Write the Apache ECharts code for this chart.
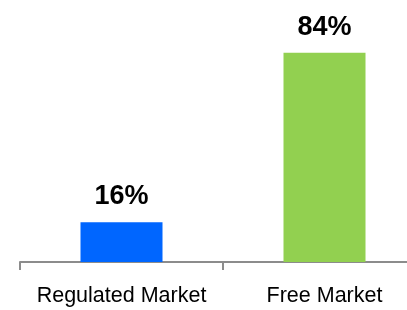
<!DOCTYPE html>
<html>
<head>
<meta charset="utf-8">
<script src="https://cdn.jsdelivr.net/npm/echarts@6/dist/echarts.min.js"></script>
<style>
  html, body { margin: 0; padding: 0; background: #fff; }
  #chart { width: 407px; height: 310px; }
</style>
</head>
<body>
<div id="chart"></div>
<script>
// market share by type, %
const categories = ['Regulated Market', 'Free Market'];
const shares = [16, 84];
const barColors = ['#0066FF', '#92D050'];

const chart = echarts.init(document.getElementById('chart'));

const option = {
  animation: false,
  // second category runs past the right edge, like the original slide crop
  grid: { left: 20, width: 406, top: 13, bottom: 48, outerBoundsMode: 'none' },
  xAxis: {
    type: 'category',
    data: categories,
    boundaryGap: true,
    axisLine: { lineStyle: { color: '#8c8c8c', width: 2 } },
    axisTick: { show: true, length: 8, lineStyle: { color: '#8c8c8c', width: 2 } },
    axisLabel: {
      color: '#000',
      fontFamily: 'Liberation Sans, Arial, sans-serif',
      fontSize: 21.5,
      margin: 23,
      interval: 0
    }
  },
  yAxis: {
    type: 'value',
    min: 0,
    max: 100,
    show: false,
    splitLine: { show: false }
  },
  series: [{
    type: 'bar',
    barWidth: 82,
    data: shares.map((v, i) => ({ value: v, itemStyle: { color: barColors[i] } })),
    label: {
      show: true,
      position: 'top',
      distance: 12,
      formatter: '{c}%',
      color: '#000',
      fontWeight: 'bold',
      fontSize: 27,
      fontFamily: 'Liberation Sans, Arial, sans-serif'
    }
  }]
};

chart.setOption(option);
</script>
</body>
</html>
